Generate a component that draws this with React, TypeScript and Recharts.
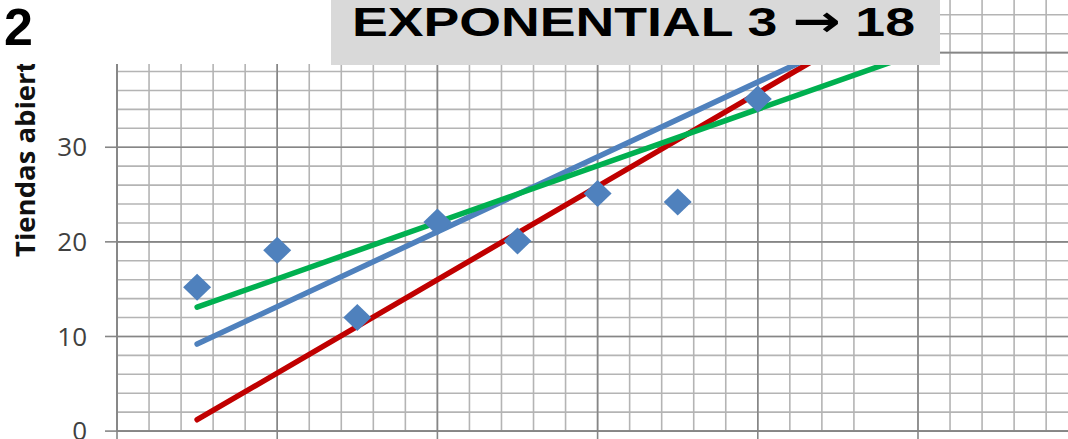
import React from 'react';
import { ComposedChart, Line, Scatter, XAxis, YAxis, CartesianGrid } from 'recharts';

// observed points (year -> stores open)
const years = [1, 2, 3, 4, 5, 6, 7, 8];
const storesOpen = [15.2, 19.1, 12.0, 22.1, 20.1, 25.1, 24.2, 35.1];

// trend lines, read at their two ends
const trendX = [1, 10];
const redTrend = [1.2, 45.6];
const blueTrend = [9.2, 44.8];
const greenTrend = [13.1, 40.0];

const yTicks = [0, 10, 20, 30, 40, 50];
const yMinor = [0, 2, 4, 6, 8, 10, 12, 14, 16, 18, 20, 22, 24, 26, 28, 30, 32, 34, 36, 38, 40, 42, 44, 46, 48, 50];
const xMajor = [0, 2, 4, 6, 8, 10, 12];
// one minor line (9.6) is missing in the original grid
const xMinor = [0, 0.4, 0.8, 1.2, 1.6, 2, 2.4, 2.8, 3.2, 3.6, 4, 4.4, 4.8, 5.2, 5.6, 6, 6.4, 6.8, 7.2, 7.6, 8, 8.4, 8.8, 9.2, 10, 10.4, 10.8, 11.2, 11.6, 12];

const points = years.map((x, i) => ({ x, y: storesOpen[i] }));
const toLine = (vals: number[]) => trendX.map((x, i) => ({ x, y: vals[i] }));

const Diamond = (props: any) => {
  const { cx, cy } = props;
  if (cx == null || cy == null) return null;
  return (
    <path
      d={`M${cx},${cy - 13.5} L${cx + 14},${cy} L${cx},${cy + 13.5} L${cx - 14},${cy} Z`}
      fill="#4f81bd"
    />
  );
};

const gridMinor = '#b4b4b4';
const gridMajor = '#868686';

export default function App() {
  return (
    <div
      style={{
        position: 'absolute',
        left: 0,
        top: 0,
        width: 1068,
        height: 439,
        overflow: 'hidden',
        background: '#fff',
      }}
    >
      <div style={{ position: 'absolute', left: 0, top: -51.6 }}>
        <ComposedChart
          width={1100}
          height={513.1}
          margin={{ top: 10, right: 21.8, left: 0, bottom: 0 }}
        >
          <CartesianGrid
            stroke={gridMinor}
            strokeWidth={1.6}
            horizontalValues={yMinor}
            verticalValues={xMinor}
          />
          <CartesianGrid
            stroke={gridMajor}
            strokeWidth={1.6}
            horizontalValues={yTicks}
            verticalValues={xMajor}
          />
          <XAxis
            type="number"
            dataKey="x"
            domain={[0, 12]}
            ticks={xMajor}
            interval={0}
            height={30}
            tickSize={10}
            tickFormatter={() => ''}
            axisLine={{ stroke: gridMajor, strokeWidth: 1.6 }}
            tickLine={{ stroke: gridMajor, strokeWidth: 1.6 }}
          />
          <YAxis
            type="number"
            domain={[0, 50]}
            ticks={yTicks}
            interval={0}
            width={117}
            tickSize={12}
            tickMargin={18}
            axisLine={{ stroke: gridMajor, strokeWidth: 1.6 }}
            tickLine={{ stroke: gridMajor, strokeWidth: 1.6 }}
            tick={{ fill: '#404040', fontSize: 26, fontFamily: 'Open Sans' }}
          />
          <Scatter data={points} dataKey="y" shape={<Diamond />} isAnimationActive={false} />
          <Line
            data={toLine(redTrend)}
            dataKey="y"
            type="linear"
            stroke="#c00000"
            strokeWidth={5.5}
            strokeLinecap="round"
            dot={false}
            activeDot={false}
            isAnimationActive={false}
          />
          <Line
            data={toLine(blueTrend)}
            dataKey="y"
            type="linear"
            stroke="#4f81bd"
            strokeWidth={5.5}
            strokeLinecap="round"
            dot={false}
            activeDot={false}
            isAnimationActive={false}
          />
          <Line
            data={toLine(greenTrend)}
            dataKey="y"
            type="linear"
            stroke="#00b050"
            strokeWidth={5.5}
            strokeLinecap="round"
            dot={false}
            activeDot={false}
            isAnimationActive={false}
          />
        </ComposedChart>
      </div>

      <svg
        width={1068}
        height={439}
        style={{ position: 'absolute', left: 0, top: 0, pointerEvents: 'none' }}
      >
        <text
          x={35}
          y={257}
          transform="rotate(-90, 35, 257)"
          fontFamily="Open Sans"
          fontWeight="bold"
          fontSize={27.5}
          fill="#111"
        >
          Tiendas abiertas
        </text>
        <rect x={0} y={0} width={331} height={64} fill="#fff" />
        <text x={4} y={45} fontFamily="Liberation Sans, Arial" fontWeight="bold" fontSize={52} fill="#000">
          2
        </text>
        <rect x={331} y={0} width={609} height={65} fill="#d9d9d9" />
        <text
          x={352}
          y={36}
          fontFamily="Liberation Sans, Arial"
          fontWeight="bold"
          fontSize={41}
          fill="#000"
          textLength={563}
          lengthAdjust="spacingAndGlyphs"
        >
          EXPONENTIAL 3 <tspan fontFamily="DejaVu Sans" fontSize={44}>→</tspan> 18
        </text>
      </svg>
    </div>
  );
}
